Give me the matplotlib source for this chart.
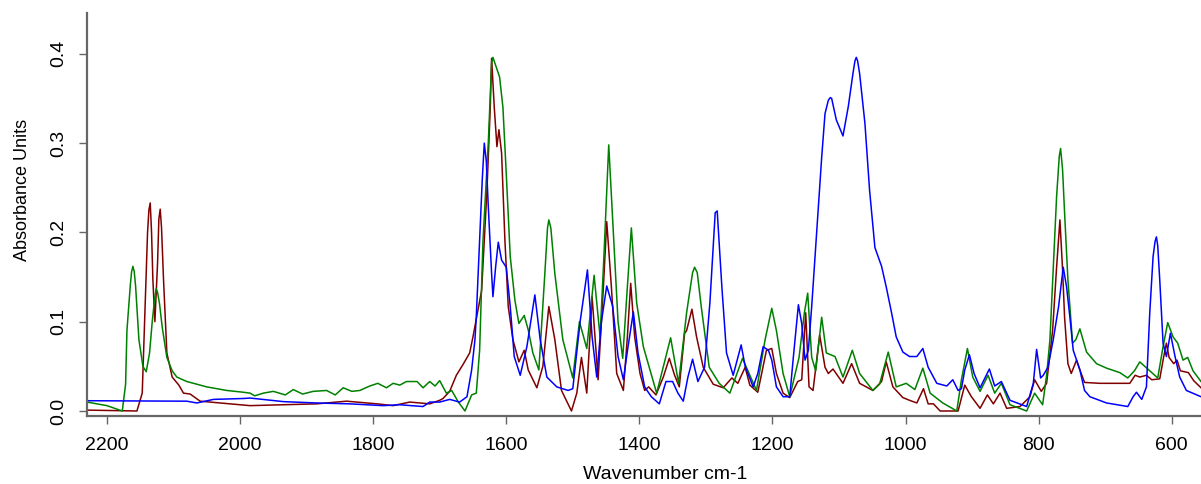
import numpy as np
import matplotlib
matplotlib.use('Agg')
import matplotlib.pyplot as plt

plt.rcParams['font.family'] = ['Liberation Sans', 'DejaVu Sans']

# spectra (wavenumber cm-1, absorbance)
green_wn = [2230, 2200, 2177, 2172, 2170, 2165, 2163, 2161, 2159, 2157, 2152, 2146, 2141, 2136, 2132, 2128, 2126, 2124, 2121, 2117,
            2110, 2102, 2095, 2080, 2050, 2020, 1995, 1985, 1978, 1965, 1950, 1932, 1920, 1906, 1890, 1870,
            1857, 1845, 1832, 1820, 1805, 1793, 1780, 1770, 1760, 1750, 1734, 1725, 1715, 1707, 1700, 1690,
            1682, 1672, 1662, 1652, 1645, 1640, 1635, 1627, 1622, 1620, 1615, 1610, 1605, 1600, 1594, 1587,
            1581, 1573, 1567, 1560, 1551, 1542, 1538, 1536, 1533, 1527, 1515, 1500, 1490, 1479, 1468, 1459, 1453, 1446,
            1440, 1432, 1425, 1418, 1412, 1404, 1394, 1374, 1353, 1341, 1329, 1320, 1317, 1313, 1307, 1295, 1280, 1264,
            1245, 1234, 1224, 1211, 1201, 1194, 1184, 1174, 1160, 1152, 1147, 1141, 1135, 1126, 1119, 1106,
            1094, 1080, 1069, 1049, 1039, 1026, 1014, 999, 986, 974, 963, 944, 923, 916, 907, 899,
            888, 876, 866, 856, 843, 818, 806, 794, 788, 783, 778, 773, 769, 767, 764, 761, 756, 749,
            744, 738, 728, 713, 698, 678, 666, 656, 648, 636, 621, 613, 606, 598, 591, 583,
            576, 568, 556]
green_ab = [0.010, 0.006, 0.000, 0.030, 0.090, 0.140, 0.156, 0.162, 0.156, 0.140, 0.080, 0.050, 0.044, 0.065, 0.100, 0.128, 0.137, 0.133, 0.120, 0.094,
            0.060, 0.045, 0.038, 0.033, 0.027, 0.023, 0.021, 0.020, 0.017, 0.020, 0.022, 0.018, 0.024, 0.019, 0.022, 0.023,
            0.018, 0.026, 0.022, 0.023, 0.028, 0.031, 0.026, 0.031, 0.029, 0.033, 0.033, 0.026, 0.033, 0.028, 0.034, 0.020,
            0.023, 0.010, 0.000, 0.018, 0.020, 0.068, 0.190, 0.300, 0.390, 0.396, 0.385, 0.374, 0.340, 0.266, 0.173, 0.124,
            0.098, 0.107, 0.091, 0.065, 0.046, 0.154, 0.205, 0.214, 0.205, 0.154, 0.080, 0.037, 0.100, 0.070, 0.152, 0.083, 0.177, 0.298,
            0.214, 0.100, 0.059, 0.139, 0.205, 0.121, 0.072, 0.020, 0.082, 0.031, 0.110, 0.155, 0.161, 0.155, 0.117, 0.049, 0.031, 0.020,
            0.059, 0.040, 0.023, 0.080, 0.115, 0.090, 0.042, 0.016, 0.060, 0.110, 0.132, 0.060, 0.045, 0.105, 0.065, 0.061,
            0.038, 0.068, 0.042, 0.023, 0.030, 0.066, 0.027, 0.031, 0.024, 0.048, 0.020, 0.009, 0.000, 0.035, 0.070, 0.038,
            0.022, 0.040, 0.020, 0.031, 0.007, 0.000, 0.020, 0.007, 0.040, 0.080, 0.160, 0.240, 0.285, 0.294, 0.270, 0.222, 0.147, 0.076,
            0.080, 0.092, 0.066, 0.053, 0.048, 0.043, 0.037, 0.045, 0.055, 0.047, 0.037, 0.072, 0.099, 0.083, 0.076, 0.057,
            0.060, 0.045, 0.033]

red_wn = [2230, 2155, 2147, 2143, 2139, 2137, 2135, 2133, 2131, 2128, 2124, 2122, 2120, 2118, 2115, 2110, 2102, 2092, 2085, 2075,
          2060, 2030, 1985, 1935, 1885, 1840, 1794, 1770, 1745, 1715, 1700, 1695, 1685, 1675, 1665, 1655,
          1650, 1637, 1629, 1624, 1622, 1618, 1614, 1611, 1607, 1602, 1597, 1590, 1581, 1573, 1567, 1554,
          1545, 1536, 1527, 1517, 1502, 1494, 1487, 1479, 1471, 1462, 1454, 1449, 1442, 1434, 1424, 1418,
          1413, 1407, 1399, 1392, 1386, 1375, 1364, 1355, 1347, 1340, 1332, 1329, 1321, 1314, 1304, 1289,
          1274, 1261, 1252, 1241, 1234, 1222, 1209, 1201, 1194, 1184, 1174, 1162, 1156, 1150, 1145, 1139,
          1129, 1121, 1116, 1109, 1094, 1081, 1069, 1049, 1036, 1029, 1019, 1004, 994, 983, 973, 966,
          958, 948, 921, 911, 901, 888, 877, 868, 858, 848, 828, 813, 806, 796, 788, 779,
          773, 768, 764, 761, 756, 751, 743, 738, 731, 708, 663, 655, 648, 638, 630, 618,
          612, 608, 604, 597, 592, 587, 575, 567, 556]
red_ab = [0.001, 0.000, 0.020, 0.110, 0.200, 0.225, 0.233, 0.200, 0.147, 0.100, 0.165, 0.215, 0.226, 0.205, 0.147, 0.065, 0.038, 0.029, 0.020, 0.019,
          0.011, 0.009, 0.006, 0.007, 0.008, 0.011, 0.008, 0.006, 0.010, 0.008, 0.012, 0.014, 0.022, 0.040, 0.052, 0.065,
          0.083, 0.135, 0.247, 0.340, 0.395, 0.340, 0.296, 0.315, 0.289, 0.191, 0.117, 0.080, 0.055, 0.068, 0.046, 0.026,
          0.050, 0.117, 0.080, 0.023, 0.000, 0.020, 0.060, 0.020, 0.128, 0.035, 0.139, 0.212, 0.139, 0.042, 0.023, 0.083,
          0.143, 0.083, 0.042, 0.023, 0.027, 0.018, 0.038, 0.059, 0.040, 0.027, 0.087, 0.090, 0.114, 0.083, 0.049, 0.030,
          0.026, 0.037, 0.031, 0.049, 0.029, 0.021, 0.068, 0.070, 0.042, 0.020, 0.015, 0.033, 0.035, 0.110, 0.027, 0.023,
          0.085, 0.049, 0.042, 0.047, 0.031, 0.053, 0.031, 0.023, 0.033, 0.055, 0.027, 0.015, 0.012, 0.009, 0.025, 0.008,
          0.008, 0.000, 0.000, 0.029, 0.016, 0.003, 0.018, 0.008, 0.020, 0.003, 0.005, 0.016, 0.035, 0.022, 0.031, 0.090,
          0.161, 0.214, 0.158, 0.105, 0.053, 0.042, 0.057, 0.046, 0.032, 0.031, 0.031, 0.040, 0.038, 0.040, 0.035, 0.036,
          0.061, 0.076, 0.060, 0.053, 0.057, 0.045, 0.043, 0.034, 0.026]

blue_wn = [2230, 2080, 2065, 2040, 1995, 1985, 1935, 1885, 1835, 1785, 1760, 1725, 1715, 1700, 1685, 1670,
           1659, 1652, 1647, 1645, 1640, 1636, 1633, 1630, 1627, 1622, 1620, 1616, 1612, 1607, 1600, 1594,
           1588, 1579, 1569, 1557, 1549, 1539, 1524, 1507, 1500, 1489, 1478, 1471, 1464, 1457, 1449, 1440,
           1432, 1424, 1417, 1409, 1402, 1392, 1382, 1370, 1360, 1350, 1342, 1334, 1327, 1320, 1312, 1302,
           1294, 1286, 1283, 1276, 1269, 1259, 1253, 1247, 1241, 1229, 1222, 1214, 1206, 1201, 1194, 1184,
           1174, 1169, 1161, 1156, 1151, 1146, 1141, 1136, 1131, 1126, 1121, 1116, 1113, 1111, 1104, 1094, 1086,
           1079, 1076, 1074, 1072, 1069, 1061, 1054, 1046, 1036, 1029, 1021, 1014, 1004, 994, 983, 974, 966, 953,
           938, 929, 921, 916, 911, 904, 897, 888, 874, 866, 856, 843, 818, 808, 803, 797,
           793, 786, 778, 770, 763, 758, 753, 748, 738, 731, 723, 698, 666, 658, 653, 645,
           638, 633, 628, 625, 623, 621, 618, 613, 608, 602, 595, 588, 578, 556]
blue_ab = [0.0115, 0.011, 0.009, 0.013, 0.014, 0.0145, 0.0105, 0.009, 0.008, 0.006, 0.007, 0.005, 0.010, 0.010, 0.013, 0.010,
           0.016, 0.046, 0.080, 0.106, 0.190, 0.260, 0.300, 0.280, 0.229, 0.154, 0.128, 0.161, 0.189, 0.169, 0.161, 0.117,
           0.061, 0.040, 0.072, 0.130, 0.080, 0.038, 0.027, 0.023, 0.025, 0.100, 0.158, 0.083, 0.038, 0.100, 0.140, 0.117,
           0.061, 0.035, 0.072, 0.111, 0.065, 0.027, 0.016, 0.008, 0.033, 0.033, 0.020, 0.011, 0.038, 0.058, 0.033, 0.049,
           0.121, 0.222, 0.224, 0.139, 0.065, 0.040, 0.057, 0.074, 0.050, 0.027, 0.042, 0.072, 0.068, 0.057, 0.027, 0.016,
           0.016, 0.057, 0.119, 0.098, 0.057, 0.068, 0.117, 0.173, 0.229, 0.284, 0.333, 0.348, 0.351, 0.350, 0.326, 0.308, 0.341,
           0.378, 0.392, 0.396, 0.392, 0.378, 0.322, 0.247, 0.183, 0.162, 0.139, 0.110, 0.083, 0.066, 0.061, 0.061, 0.070, 0.049, 0.031,
           0.028, 0.035, 0.023, 0.025, 0.046, 0.063, 0.042, 0.026, 0.047, 0.028, 0.033, 0.012, 0.005, 0.031, 0.069, 0.037,
           0.040, 0.049, 0.080, 0.117, 0.161, 0.139, 0.105, 0.068, 0.046, 0.023, 0.016, 0.009, 0.005, 0.016, 0.021, 0.013,
           0.027, 0.110, 0.173, 0.190, 0.195, 0.185, 0.147, 0.076, 0.061, 0.087, 0.061, 0.038, 0.023, 0.016]

x_ticks = [2200, 2000, 1800, 1600, 1400, 1200, 1000, 800, 600]
y_ticks = [0.0, 0.1, 0.2, 0.3, 0.4]
y_ticklabels = ['0.0', '0.1', '0.2', '0.3', '0.4']

fig = plt.figure(figsize=(12.01, 4.84), dpi=100)
ax = fig.add_axes([87 / 1201, 68 / 484, 1114 / 1201, 403 / 484])

ax.plot(red_wn, red_ab, color='#800000', lw=1.1, solid_joinstyle='round')
ax.plot(green_wn, green_ab, color='#008000', lw=1.1, solid_joinstyle='round')
ax.plot(blue_wn, blue_ab, color='#0000ff', lw=1.1, solid_joinstyle='round')

ax.set_xlim(2230, 556)
ax.set_ylim(-0.0056, 0.4457)

for side in ['top', 'right']:
    ax.spines[side].set_visible(False)
for side in ['left', 'bottom']:
    ax.spines[side].set_color('#666666')
    ax.spines[side].set_linewidth(1.6)

ax.set_xticks(x_ticks)
ax.set_xticklabels([str(t) for t in x_ticks], fontsize=14)
ax.set_yticks(y_ticks)
ax.set_yticklabels(y_ticklabels, fontsize=14, rotation=90, va='center')
ax.tick_params(axis='x', length=6, width=1, color='#666666', pad=9)
ax.tick_params(axis='y', length=6, width=1, color='#666666', pad=8)

ax.set_xlabel('Wavenumber cm-1', fontsize=14)
ax.xaxis.set_label_coords(0.519, -0.124)
ax.set_ylabel('Absorbance Units', fontsize=13)
ax.yaxis.set_label_coords(-0.050, 0.561)

fig.savefig('out.png', dpi=100)
